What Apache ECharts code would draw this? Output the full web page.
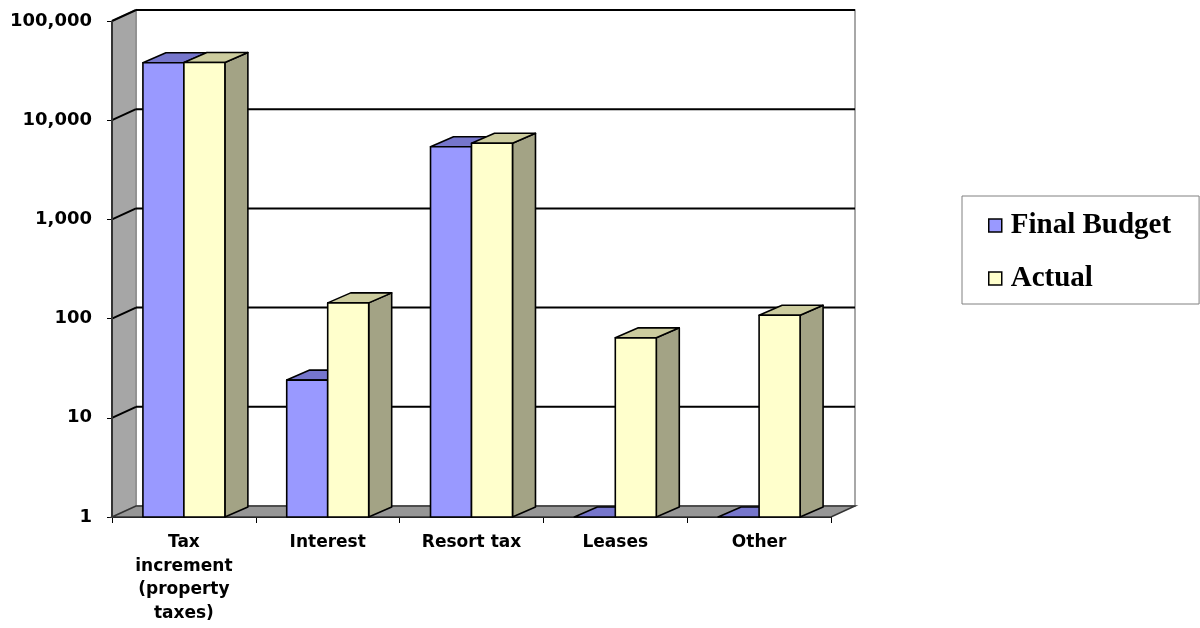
<!DOCTYPE html>
<html>
<head>
<meta charset="utf-8">
<script src="https://cdn.jsdelivr.net/npm/echarts@6/dist/echarts.min.js"></script>
<style>html,body{margin:0;padding:0;background:#fff;}#chart{width:1200px;height:628px;}</style>
</head>
<body>
<div id="chart"></div>
<script>
// ---- data ----
const categories = ["Tax\nincrement\n(property\ntaxes)", "Interest", "Resort tax", "Leases", "Other"];
const finalBudget = [38000, 24, 5400, 0, 0];
const actual = [38200, 144, 5850, 64, 108];
const yTicks = [1, 10, 100, 1000, 10000, 100000];
const seriesNames = ["Final Budget", "Actual"];

// ---- styles ----
const WALL_DX = 24, WALL_DY = -11;
const BAR_DX = 23, BAR_DY = -10;
const BAR_FRAC = 0.285;
const palette = [
  {front: '#9999FF', top: '#7676CC', side: '#6B6BB3'},
  {front: '#FFFFCC', top: '#CCCC9E', side: '#A3A385'}
];

function wallsRender(params, api) {
  const cs = params.coordSys;
  const x = cs.x, y = cs.y, w = cs.width, h = cs.height;
  const children = [];
  children.push({type: 'polygon', shape: {points: [[x + WALL_DX, y + WALL_DY], [x + w + WALL_DX, y + WALL_DY], [x + w + WALL_DX, y + h + WALL_DY], [x + WALL_DX, y + h + WALL_DY]]},
    style: {fill: '#FFFFFF', stroke: '#8C8C8C', lineWidth: 1.5}});
  children.push({type: 'polygon', shape: {points: [[x, y], [x + WALL_DX, y + WALL_DY], [x + WALL_DX, y + h + WALL_DY], [x, y + h]]},
    style: {fill: '#A6A6A6', stroke: '#8C8C8C', lineWidth: 1.5}});
  children.push({type: 'polygon', shape: {points: [[x, y + h], [x + WALL_DX, y + h + WALL_DY], [x + w + WALL_DX, y + h + WALL_DY], [x + w, y + h]]},
    style: {fill: '#969696', stroke: '#333', lineWidth: 1.5}});
  yTicks.forEach(function (t) {
    if (t === yTicks[0]) return;
    const yy = api.coord([0, t])[1];
    children.push({type: 'line', shape: {x1: x + WALL_DX, y1: yy + WALL_DY, x2: x + w + WALL_DX, y2: yy + WALL_DY},
      style: {stroke: '#000', lineWidth: 2}});
    children.push({type: 'line', shape: {x1: x, y1: yy, x2: x + WALL_DX, y2: yy + WALL_DY},
      style: {stroke: '#000', lineWidth: 2}});
  });
  children.push({type: 'line', shape: {x1: x, y1: y, x2: x, y2: y + h}, style: {stroke: '#333', lineWidth: 2}});
  return {type: 'group', children: children};
}

function barRender(si) {
  return function (params, api) {
    const ci = api.value(0);
    const v = api.value(1);
    const base = api.coord([ci, yTicks[0]]);
    const topPt = api.coord([ci, v]);
    const bw = api.size([1, 0])[0] * BAR_FRAC;
    const x0 = si === 0 ? base[0] - bw : base[0];
    const x1 = x0 + bw;
    const yb = base[1], yt = topPt[1];
    const pal = palette[si];
    const st = {stroke: '#000', lineWidth: 1.6, lineJoin: 'round'};
    const children = [];
    children.push({type: 'polygon', shape: {points: [[x1, yt], [x1 + BAR_DX, yt + BAR_DY], [x1 + BAR_DX, yb + BAR_DY], [x1, yb]]},
      style: Object.assign({fill: pal.side}, st)});
    children.push({type: 'polygon', shape: {points: [[x0, yt], [x0 + BAR_DX, yt + BAR_DY], [x1 + BAR_DX, yt + BAR_DY], [x1, yt]]},
      style: Object.assign({fill: pal.top}, st)});
    if (yb - yt > 0.5) {
      children.push({type: 'rect', shape: {x: x0, y: yt, width: bw, height: yb - yt},
        style: Object.assign({fill: pal.front}, st)});
    }
    return {type: 'group', children: children};
  };
}

const chart = echarts.init(document.getElementById('chart'), null, {renderer: 'canvas'});
const toData = arr => arr.map((v, i) => [i, Math.max(v, yTicks[0])]);

chart.setOption({
  animation: false,
  backgroundColor: '#fff',
  grid: {left: 112, top: 21, width: 719, height: 496, containLabel: false},
  legend: {
    data: seriesNames,
    orient: 'vertical',
    left: 962, top: 196,
    padding: [15, 28, 11, 26],
    itemGap: 24,
    itemWidth: 13, itemHeight: 13,
    icon: 'rect',
    borderColor: '#808080', borderWidth: 1,
    itemStyle: {borderColor: '#000', borderWidth: 1.5},
    textStyle: {fontFamily: 'Liberation Serif', fontWeight: 'bold', fontSize: 29, color: '#000', lineHeight: 29, padding: [0, 0, 0, 4]}
  },
  xAxis: {
    type: 'category',
    data: categories,
    boundaryGap: true,
    axisLine: {show: true, lineStyle: {color: '#000', width: 2}},
    axisTick: {show: true, length: 6, lineStyle: {color: '#000', width: 1}},
    axisLabel: {fontFamily: 'DejaVu Sans', fontWeight: 'bold', fontSize: 17, color: '#000', lineHeight: 23.5, margin: 14, interval: 0},
    splitLine: {show: false}
  },
  yAxis: {
    type: 'log',
    logBase: 10,
    min: yTicks[0], max: yTicks[yTicks.length - 1],
    axisLine: {show: false},
    axisTick: {show: true, length: 5, lineStyle: {color: '#000', width: 1}},
    splitLine: {show: false},
    minorTick: {show: false},
    axisLabel: {fontFamily: 'DejaVu Sans', fontWeight: 'bold', fontSize: 18, color: '#000', margin: 20,
      formatter: v => Number(v).toLocaleString('en-US')}
  },
  series: [
    {type: 'custom', name: '_walls', silent: true, z: 1, renderItem: wallsRender, data: [[0, yTicks[0]]], clip: false},
    {type: 'custom', name: seriesNames[0], z: 2, itemStyle: {color: palette[0].front}, renderItem: barRender(0), data: toData(finalBudget), clip: false},
    {type: 'custom', name: seriesNames[1], z: 3, itemStyle: {color: palette[1].front}, renderItem: barRender(1), data: toData(actual), clip: false}
  ]
});
</script>
</body>
</html>
